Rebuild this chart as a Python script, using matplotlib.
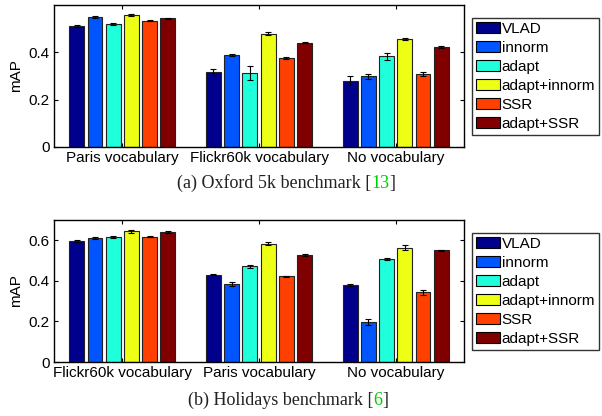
import numpy as np
import matplotlib
matplotlib.use("Agg")
import matplotlib.pyplot as plt

methods = ["VLAD", "innorm", "adapt", "adapt+innorm", "SSR", "adapt+SSR"]
colors = ["#00008c", "#0055ff", "#20ffdc", "#ecff14", "#ff4000", "#800000"]

# (a) Oxford 5k
oxford_groups = ["Paris vocabulary", "Flickr60k vocabulary", "No vocabulary"]
oxford_vals = [
    [0.512, 0.550, 0.520, 0.558, 0.534, 0.543],
    [0.317, 0.389, 0.312, 0.479, 0.375, 0.441],
    [0.280, 0.298, 0.383, 0.457, 0.307, 0.423],
]
oxford_err = [
    [0.003, 0.003, 0.003, 0.004, 0.002, 0.002],
    [0.012, 0.004, 0.030, 0.005, 0.004, 0.002],
    [0.018, 0.012, 0.015, 0.005, 0.008, 0.004],
]

# (b) Holidays
holidays_groups = ["Flickr60k vocabulary", "Paris vocabulary", "No vocabulary"]
holidays_vals = [
    [0.596, 0.611, 0.616, 0.645, 0.617, 0.642],
    [0.431, 0.384, 0.472, 0.584, 0.423, 0.526],
    [0.379, 0.198, 0.508, 0.563, 0.343, 0.550],
]
holidays_err = [
    [0.004, 0.007, 0.006, 0.007, 0.002, 0.005],
    [0.003, 0.010, 0.007, 0.008, 0.003, 0.004],
    [0.004, 0.015, 0.004, 0.012, 0.012, 0.004],
]

plt.rcParams["font.family"] = ["Liberation Sans", "DejaVu Sans"]
W, H = 602, 416
fig = plt.figure(figsize=(W / 100, H / 100), dpi=100)


def px_axes(x0, y0, x1, y1):
    return fig.add_axes([x0 / W, 1 - y1 / H, (x1 - x0) / W, (y1 - y0) / H])


def draw_panel(ax, groups, vals, errs, ymax, yticks, leg_top):
    vals = np.array(vals)
    errs = np.array(errs)
    n = len(methods)
    step = 0.8 / n
    x = np.arange(1, len(groups) + 1)
    for i, (m, c) in enumerate(zip(methods, colors)):
        pos = x - 0.4 + step * (i + 0.5)
        ax.bar(pos, vals[:, i], width=step * 0.82, color=c, edgecolor="#222222",
               linewidth=0.8, label=m, zorder=2)
        ax.errorbar(pos, vals[:, i], yerr=errs[:, i], fmt="none", ecolor="black",
                    elinewidth=0.8, capsize=2.5, capthick=0.8, zorder=3)
    ax.set_xlim(0.5, 3.5)
    ax.set_ylim(0, ymax)
    ax.set_xticks(x)
    ax.set_xticklabels(groups)
    ax.set_yticks(yticks)
    ax.set_yticklabels(["0" if t == 0 else f"{t:.1f}" for t in yticks])
    ax.set_ylabel("mAP", fontsize=11, labelpad=4)
    ax.tick_params(direction="in", top=True, right=True, labelsize=11, length=3, pad=3)
    for s in ax.spines.values():
        s.set_linewidth(1.0)
    leg = fig.legend(*ax.get_legend_handles_labels(), loc="upper left",
                     bbox_to_anchor=(472 / W, 1 - leg_top / H), fontsize=11,
                     frameon=True, fancybox=False, edgecolor="black", handlelength=1.6,
                     handleheight=0.75, handletextpad=0.1, labelspacing=0.33,
                     borderpad=0.25, borderaxespad=0)
    leg.get_frame().set_linewidth(1.0)
    for p in leg.get_patches():
        p.set_edgecolor("black")


ax1 = px_axes(54, 5, 464, 147)
draw_panel(ax1, oxford_groups, oxford_vals, oxford_err, 0.6, [0, 0.2, 0.4], 18)
ax2 = px_axes(54, 220, 464, 362)
draw_panel(ax2, holidays_groups, holidays_vals, holidays_err, 0.7, [0, 0.2, 0.4, 0.6], 233)


def caption(x, y, before, ref):
    serif = dict(family=["Liberation Serif", "DejaVu Serif"], fontsize=13, color="#222222")
    t1 = fig.text(x / W, 1 - y / H, before + "[", va="baseline", ha="left", **serif)
    t2 = fig.text(0, 0, ref, va="baseline", ha="left", transform=None,
                  **{**serif, "color": "#00cc00"})
    t3 = fig.text(0, 0, "]", va="baseline", ha="left", transform=None, **serif)
    fig.canvas.draw()
    r = fig.canvas.get_renderer()
    b1 = t1.get_window_extent(r)
    yb = (1 - y / H) * H
    t2.set_position((b1.x1, yb))
    fig.canvas.draw()
    b2 = t2.get_window_extent(r)
    t3.set_position((b2.x1, yb))


caption(177, 188, "(a) Oxford 5k benchmark ", "13")
caption(188, 405, "(b) Holidays benchmark ", "6")

fig.savefig("out.png", dpi=100)
